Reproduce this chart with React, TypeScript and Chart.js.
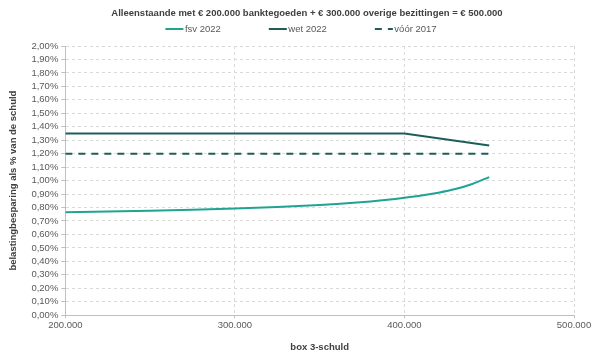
import React, { useEffect, useRef } from "react";
import { Chart, registerables } from "chart.js";

Chart.register(...registerables);

const TITLE = "Alleenstaande met € 200.000 banktegoeden + € 300.000 overige bezittingen = € 500.000";
const X_TITLE = "box 3-schuld";
const Y_TITLE = "belastingbesparing als % van de schuld";

const fsvX = [200000, 225000, 250000, 275000, 300000, 325000, 350000, 360000, 370000, 380000, 390000, 400000, 410000, 420000, 430000, 440000, 450000];
const fsvY = [0.765, 0.770, 0.776, 0.783, 0.792, 0.803, 0.818, 0.826, 0.835, 0.845, 0.857, 0.872, 0.889, 0.910, 0.937, 0.975, 1.026];

const wetX = [200000, 400000, 450000];
const wetY = [1.35, 1.35, 1.26];

const voorX = [200000, 450000];
const voorY = [1.2, 1.2];

const FSV_COLOR = "#1fa393";
const WET_COLOR = "#1d5e5a";
const FONT = "'Liberation Sans', Arial, sans-serif";
const FS = 9.5;

const toPts = (xs: number[], ys: number[]) => xs.map((x, i) => ({ x, y: ys[i] }));

const headerPlugin = {
  id: "header",
  afterDraw(chart: any) {
    const ctx = chart.ctx;
    ctx.save();
    // title
    ctx.font = `bold ${FS}px ${FONT}`;
    ctx.fillStyle = "#404040";
    ctx.textAlign = "center";
    ctx.textBaseline = "middle";
    ctx.fillText(TITLE, 307, 13);
    // legend
    const lineW = 18;
    const gapText = 1.5;
    const gapItem = 48;
    const y = 29;
    ctx.font = `${FS}px ${FONT}`;
    const items = chart.data.datasets.map((d: any) => ({
      label: d.label,
      color: d.borderColor,
      dash: d.borderDash || [],
      w: lineW + gapText + ctx.measureText(d.label).width,
    }));
    const total = items.reduce((s: number, it: any) => s + it.w, 0) + gapItem * (items.length - 1);
    let x = (chart.width - total) / 2 + 1;
    for (const it of items) {
      ctx.strokeStyle = it.color;
      ctx.lineWidth = 2;
      ctx.setLineDash(it.dash);
      ctx.beginPath();
      ctx.moveTo(x, y);
      ctx.lineTo(x + lineW, y);
      ctx.stroke();
      ctx.setLineDash([]);
      ctx.fillStyle = "#595959";
      ctx.textBaseline = "middle";
      ctx.textAlign = "left";
      ctx.fillText(it.label, x + lineW + gapText, y);
      x += it.w + gapItem;
    }
    ctx.restore();
  },
};

export default function App() {
  const ref = useRef<HTMLCanvasElement | null>(null);
  useEffect(() => {
    document.body.style.margin = "0";
    const chart = new Chart(ref.current as HTMLCanvasElement, {
      type: "line",
      data: {
        datasets: [
          {
            label: "fsv 2022",
            data: toPts(fsvX, fsvY),
            borderColor: FSV_COLOR,
            backgroundColor: FSV_COLOR,
            borderWidth: 2,
            pointRadius: 0,
            cubicInterpolationMode: "monotone",
          },
          {
            label: "wet 2022",
            data: toPts(wetX, wetY),
            borderColor: WET_COLOR,
            backgroundColor: WET_COLOR,
            borderWidth: 2,
            pointRadius: 0,
          },
          {
            label: "vóór 2017",
            data: toPts(voorX, voorY),
            borderColor: WET_COLOR,
            backgroundColor: WET_COLOR,
            borderWidth: 2,
            borderDash: [7, 6],
            pointRadius: 0,
          },
        ],
      },
      options: {
        animation: false,
        responsive: true,
        maintainAspectRatio: false,
        layout: { padding: { left: 8, right: 26, top: 46, bottom: 4 } },
        plugins: {
          title: { display: false },
          legend: { display: false },
          tooltip: { enabled: false },
        },
        scales: {
          x: {
            type: "linear",
            min: 200000,
            max: 500000,
            ticks: {
              stepSize: 100000,
              color: "#595959",
              font: { family: FONT, size: FS },
              maxRotation: 0,
              autoSkip: false,
              padding: 1,
              callback: (v: any) => Number(v).toLocaleString("de-DE"),
            },
            grid: { color: "#d9d9d9", tickLength: 3, tickColor: "#bfbfbf" },
            border: { color: "#bfbfbf", dash: [3, 3] },
            title: {
              display: true,
              text: X_TITLE,
              color: "#404040",
              font: { family: FONT, size: FS, weight: "bold" },
              padding: { top: 10, bottom: 0 },
            },
          },
          y: {
            min: 0,
            max: 2,
            ticks: {
              stepSize: 0.1,
              autoSkip: false,
              color: "#595959",
              font: { family: FONT, size: FS },
              padding: 3,
              callback: (v: any) => Number(v).toFixed(2).replace(".", ",") + "%",
            },
            grid: { color: "#d9d9d9", tickLength: 4, tickColor: "#bfbfbf" },
            border: { color: "#bfbfbf", dash: [3, 3] },
            title: {
              display: true,
              text: Y_TITLE,
              color: "#404040",
              font: { family: FONT, size: FS, weight: "bold" },
              padding: { top: 0, bottom: 9 },
            },
          },
        },
      },
      plugins: [headerPlugin],
    } as any);
    return () => chart.destroy();
  }, []);
  return (
    <div style={{ position: "fixed", left: 0, top: 0, width: 600, height: 357 }}>
      <canvas ref={ref} />
    </div>
  );
}
